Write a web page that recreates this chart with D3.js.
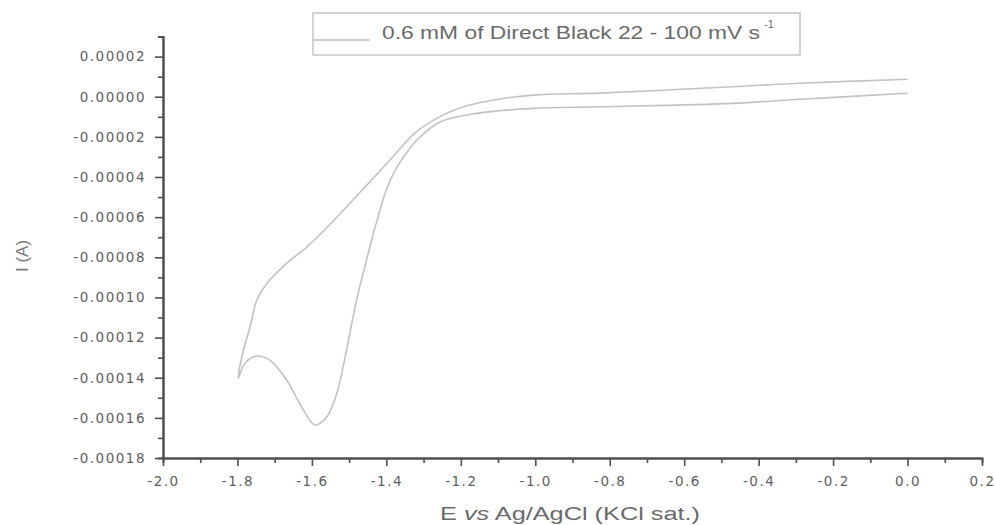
<!DOCTYPE html>
<html>
<head>
<meta charset="utf-8">
<script src="https://cdn.jsdelivr.net/npm/d3@7/dist/d3.min.js"></script>
<style>
  html, body { margin: 0; padding: 0; background: #fff; }
  svg { display: block; }
</style>
</head>
<body>
<svg id="chart" width="995" height="525"></svg>
<script>
// ---- Data (E in V vs Ag/AgCl, I in A) ----
const forwardE = [0.0, -0.289, -0.469, -0.826, -1.006, -1.157, -1.238, -1.319, -1.39, -1.48, -1.569, -1.614, -1.668, -1.721, -1.748, -1.766, -1.784, -1.798];
const forwardI = [0.0000087, 0.0000067, 0.0000050, 0.0000018, 0.0000008, -0.0000033, -0.0000083, -0.0000174, -0.0000315, -0.0000495, -0.0000669, -0.0000749, -0.0000830, -0.0000930, -0.0001013, -0.0001146, -0.0001262, -0.0001403];
const reverseE = [-1.78, -1.748, -1.713, -1.668, -1.623, -1.592, -1.56, -1.533, -1.507, -1.48, -1.453, -1.436, -1.417, -1.402, -1.385, -1.363, -1.340, -1.318, -1.256, -1.157, -1.006, -0.826, -0.469, -0.289, 0.0];
const reverseI = [-0.0001328, -0.0001292, -0.0001312, -0.0001411, -0.0001561, -0.0001635, -0.0001594, -0.0001477, -0.0001262, -0.0001013, -0.0000813, -0.0000689, -0.0000564, -0.0000475, -0.0000398, -0.0000325, -0.0000265, -0.0000216, -0.0000126, -0.0000083, -0.0000058, -0.0000050, -0.0000033, -0.0000013, 0.0000017];

const xMajorTicks = [-2.0, -1.8, -1.6, -1.4, -1.2, -1.0, -0.8, -0.6, -0.4, -0.2, 0.0, 0.2];
const xMinorTicks = [-1.9, -1.7, -1.5, -1.3, -1.1, -0.9, -0.7, -0.5, -0.3, -0.1, 0.1];
const yMajorTicks = [-0.00018, -0.00016, -0.00014, -0.00012, -0.00010, -0.00008, -0.00006, -0.00004, -0.00002, 0.00000, 0.00002];
const yMinorTicks = [-0.00017, -0.00015, -0.00013, -0.00011, -0.00009, -0.00007, -0.00005, -0.00003, -0.00001, 0.00001, 0.00003];

const legendLabel = "0.6 mM of Direct Black 22 - 100 mV s";
const legendSup = "-1";
const xTitleParts = [["E ", "normal"], ["vs", "italic"], [" Ag/AgCl (KCl sat.)", "normal"]];
const yTitle = "I (A)";

// ---- Layout ----
const svg = d3.select("#chart");
const x = d3.scaleLinear().domain([-2.0, 0.2]).range([163, 982]);
const y = d3.scaleLinear().domain([-0.00018, 0.00003]).range([458, 36.5]);

const axisColor = "#4f4f4f";
const labelColor = "#5e5e5e";
const curveColor = "#c2c2c2";

// ---- Curve ----
const pts = forwardE.map((e, i) => [e, forwardI[i]])
  .concat(reverseE.map((e, i) => [e, reverseI[i]]));
const line = d3.line()
  .x(d => x(d[0])).y(d => y(d[1]))
  .curve(d3.curveCatmullRom.alpha(0.5));
svg.append("path")
  .datum(pts)
  .attr("d", line)
  .attr("fill", "none")
  .attr("stroke", curveColor)
  .attr("stroke-width", 1.6);

// ---- Axes ----
function styleAxis(g) {
  g.selectAll(".domain").attr("stroke", axisColor).attr("stroke-width", 2);
  g.selectAll(".tick line").attr("stroke", axisColor).attr("stroke-width", 1.6);
  g.selectAll("text")
    .attr("fill", labelColor)
    .attr("font-family", "'DejaVu Sans', Verdana, sans-serif")
    .attr("font-size", 13.5)
    .style("letter-spacing", "1.5px");
}

const fmtY = d => (Math.abs(d) < 1e-12 ? 0 : d).toFixed(5);
const fmtX = d => (Math.abs(d) < 1e-12 ? 0 : d).toFixed(1);

// minor x
svg.append("g")
  .attr("transform", `translate(0,${y(-0.00018)})`)
  .call(d3.axisBottom(x).tickValues(xMinorTicks).tickSize(5).tickFormat(""))
  .call(styleAxis);
// major x
svg.append("g")
  .attr("transform", `translate(0,${y(-0.00018)})`)
  .call(d3.axisBottom(x).tickValues(xMajorTicks).tickSize(8).tickSizeOuter(0).tickPadding(10).tickFormat(fmtX))
  .call(styleAxis);

// minor y
svg.append("g")
  .attr("transform", `translate(${x(-2.0)},0)`)
  .call(d3.axisLeft(y).tickValues(yMinorTicks).tickSize(5).tickFormat(""))
  .call(styleAxis);
// major y
svg.append("g")
  .attr("transform", `translate(${x(-2.0)},0)`)
  .call(d3.axisLeft(y).tickValues(yMajorTicks).tickSize(8).tickSizeOuter(0).tickPadding(9).tickFormat(fmtY))
  .call(styleAxis);

// ---- Axis titles ----
const xt = svg.append("text")
  .attr("x", 570).attr("y", 520)
  .attr("text-anchor", "middle")
  .attr("fill", "#6a6a6a")
  .attr("font-family", "'Liberation Sans', Arial, sans-serif")
  .attr("font-size", 19)
  .attr("textLength", 260)
  .attr("lengthAdjust", "spacingAndGlyphs");
xTitleParts.forEach(p => xt.append("tspan").attr("font-style", p[1]).text(p[0]));

svg.append("text")
  .attr("transform", "translate(28,256) rotate(-90)")
  .attr("text-anchor", "middle")
  .attr("fill", "#7a7a7a")
  .attr("font-family", "'Liberation Sans', Arial, sans-serif")
  .attr("font-size", 17)
  .text(yTitle);

// ---- Legend ----
const lg = svg.append("g");
lg.append("rect")
  .attr("x", 313).attr("y", 13).attr("width", 487).attr("height", 42)
  .attr("fill", "#fff")
  .attr("stroke", "#c9c9c9").attr("stroke-width", 1.6);
lg.append("line")
  .attr("x1", 313).attr("x2", 370).attr("y1", 40).attr("y2", 40)
  .attr("stroke", curveColor).attr("stroke-width", 1.6);
lg.append("text")
  .attr("x", 382).attr("y", 39)
  .attr("fill", "#6a6a6a")
  .attr("font-family", "'Liberation Sans', Arial, sans-serif")
  .attr("font-size", 18)
  .attr("textLength", 378)
  .attr("lengthAdjust", "spacingAndGlyphs")
  .text(legendLabel);
lg.append("text")
  .attr("x", 764).attr("y", 28)
  .attr("fill", "#6a6a6a")
  .attr("font-family", "'Liberation Sans', Arial, sans-serif")
  .attr("font-size", 11)
  .text(legendSup);
</script>
</body>
</html>
